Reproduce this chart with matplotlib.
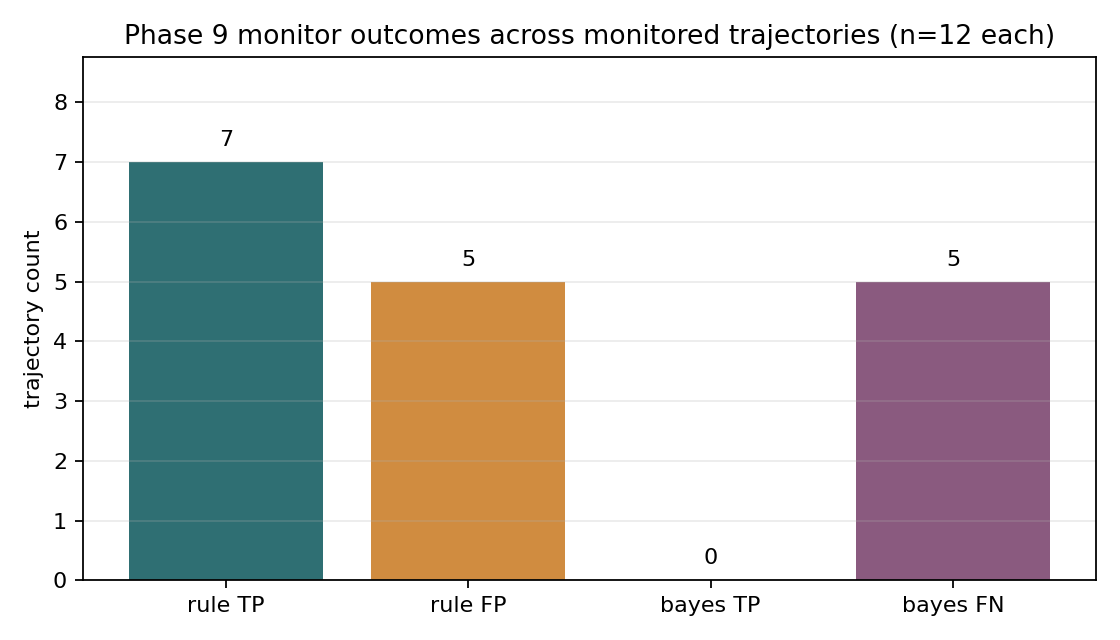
import matplotlib
matplotlib.use("Agg")
import matplotlib.pyplot as plt

categories = ["rule TP", "rule FP", "bayes TP", "bayes FN"]
counts = [7, 5, 0, 5]
colors = ["#2f6f73", "#d08c40", "#4c9a6a", "#8a5a7f"]

fig, ax = plt.subplots(figsize=(7, 4), dpi=160)
bars = ax.bar(categories, counts, color=colors, width=0.8)
ax.set_ylim(0, max(counts) * 1.25)
ax.set_ylabel("trajectory count")
ax.set_title("Phase 9 monitor outcomes across monitored trajectories (n=12 each)", fontsize=12)
ax.grid(axis="y", alpha=0.25)
for b, v in zip(bars, counts):
    ax.text(b.get_x() + b.get_width() / 2, v + 0.2, str(v), ha="center", va="bottom")
fig.tight_layout()
fig.savefig("out.png", dpi=160)
